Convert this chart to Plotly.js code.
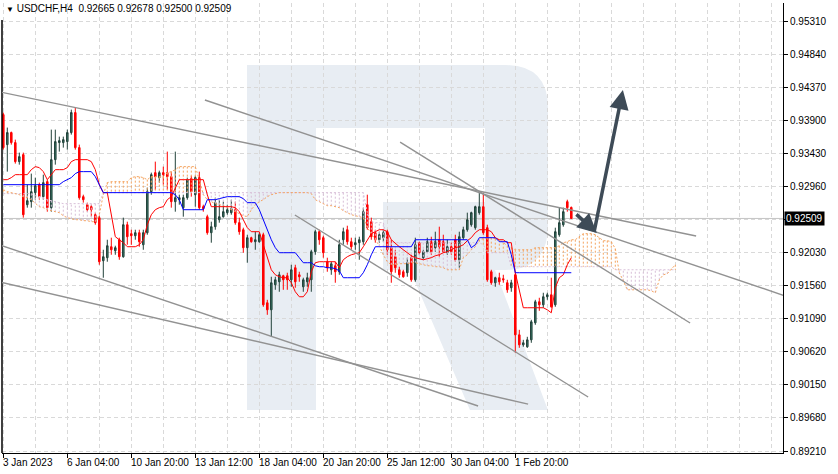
<!DOCTYPE html>
<html><head><meta charset="utf-8">
<script src="https://cdn.plot.ly/plotly-3.0.1.min.js"></script>
<style>html,body{margin:0;padding:0;background:#fff;}#chart{width:838px;height:474px;}</style>
</head><body><div id="chart"></div>
<script>
// ---- data (USDCHF H4) ----
const symbolTitle = 'USDCHF,H4';
const labelIdx = [0,16,32,48,64,80,96,112,128];
const labelText = ['3 Jan 2023','6 Jan 04:00','10 Jan 20:00','13 Jan 12:00','18 Jan 04:00','20 Jan 20:00','25 Jan 12:00','30 Jan 04:00','1 Feb 20:00'];
const priceTicks = [0.8921,0.8968,0.9015,0.9062,0.9109,0.9156,0.9203,0.92495,0.9296,0.9343,0.9390,0.9437,0.9484,0.9531];
const priceTickText = ['0.89210','0.89680','0.90150','0.90620','0.91090','0.91560','0.92030','','0.92960','0.93430','0.93900','0.94370','0.94840','0.95310'];

const openP = [.93982,.93556,.93727,.93585,.93315,.93414,.92704,.92747,.92875,.92988,
.92818,.93031,.92662,.93343,.93585,.93585,.93599,.93727,.94011,.93514,
.92818,.92704,.92676,.92562,.92520,.91909,.91952,.92108,.92051,.92207,
.91966,.92420,.92293,.92264,.92307,.92136,.92307,.92889,.93159,.93088,
.93159,.93159,.93102,.92747,.92775,.92662,.92804,.93074,.92846,.93088,
.92676,.92534,.92307,.92392,.92491,.92534,.92591,.92591,.92633,.92449,
.92349,.92094,.92236,.92179,.92179,.92278,.91313,.91213,.91568,.91611,
.91696,.91696,.91639,.91810,.91710,.91540,.91611,.91639,.92037,.92321,
.92236,.91895,.91781,.91838,.91753,.92207,.92349,.92179,.92136,.92165,
.92179,.92704,.92463,.92307,.92207,.92236,.92321,.92094,.91966,.91781,
.91753,.91739,.91952,.91639,.92165,.91952,.92037,.92179,.92094,.92207,
.92179,.92023,.92108,.92207,.91923,.92236,.92349,.92420,.92378,.92591,
.92676,.92378,.91753,.91597,.91668,.91654,.91597,.91526,.91710,.90858,
.90716,.90688,.90787,.91029,.91327,.91284,.91398,.91426,.91284,.92278,
.92420,.92747,.92665];
const highP = [.94011,.93798,.93741,.93627,.93443,.93443,.92988,.93145,.93088,.93017,
.93130,.93059,.93769,.93769,.93670,.93670,.93769,.94053,.94082,.93556,
.92846,.92733,.92704,.92591,.92548,.92065,.92207,.92236,.92122,.92236,
.92520,.92463,.92349,.92349,.92349,.92349,.92946,.93159,.93315,.93187,
.93244,.93457,.93173,.93457,.92846,.92846,.93088,.93116,.93116,.93173,
.92704,.92562,.92463,.92804,.92775,.92747,.92704,.92775,.92747,.92520,
.92378,.92278,.92250,.92321,.92307,.92307,.91355,.91682,.91682,.91753,
.91710,.91739,.91852,.91852,.91753,.91668,.91739,.92065,.92349,.92349,
.92264,.91952,.91895,.91895,.92207,.92378,.92406,.92236,.92236,.92250,
.92662,.92846,.92520,.92349,.92321,.92349,.92349,.92207,.92065,.91824,
.91781,.91952,.91994,.92236,.92179,.92065,.92236,.92250,.92321,.92392,
.92278,.92207,.92165,.92278,.92321,.92392,.92591,.92605,.92690,.92875,
.92875,.92420,.91781,.91682,.91739,.91710,.91639,.91639,.91753,.90929,
.90787,.90830,.91071,.91355,.91384,.91455,.91455,.91668,.92378,.92662,
.92662,.92775,.92678];
const lowP = [.93485,.93173,.93556,.93287,.93272,.92520,.92662,.92662,.92775,.92775,
.92775,.92605,.92605,.93272,.93457,.93514,.93485,.93698,.93485,.92775,
.92733,.92605,.92534,.92420,.91852,.91668,.91895,.91994,.91994,.91923,
.91952,.92136,.92136,.92207,.92108,.92065,.92278,.92846,.92917,.93017,
.92988,.92917,.92662,.92605,.92704,.92534,.92775,.92818,.92676,.92633,
.92605,.92278,.92165,.92349,.92449,.92520,.92562,.92562,.92420,.92278,
.92023,.91881,.92165,.92065,.92165,.91256,.91142,.90830,.91497,.91469,
.91497,.91497,.91540,.91526,.91611,.91469,.91540,.91469,.91994,.92136,
.91952,.91753,.91710,.91597,.91710,.92136,.92136,.92065,.92065,.91923,
.92136,.92349,.92207,.92165,.92165,.92179,.91994,.91597,.91739,.91668,
.91668,.91682,.91611,.91611,.91994,.91923,.92023,.91994,.92037,.91966,
.92023,.91994,.91994,.91895,.91810,.92207,.92321,.92392,.92349,.92562,
.92278,.91611,.91568,.91540,.91568,.91597,.91455,.91469,.90603,.90674,
.90688,.90674,.90745,.91000,.91199,.91242,.91355,.91242,.91256,.92250,
.92392,.92605,.92500];
const closeP = [.93514,.93727,.93585,.93315,.93386,.92562,.92761,.92889,.92974,.92818,
.93017,.92662,.93343,.93599,.93613,.93627,.93727,.94011,.93514,.92804,
.92775,.92633,.92633,.92449,.91895,.91966,.92122,.92065,.92094,.91966,
.92420,.92250,.92264,.92307,.92179,.92307,.92889,.93130,.93102,.93159,
.93130,.93102,.92747,.92804,.92804,.92804,.93059,.92889,.93088,.92662,
.92648,.92307,.92392,.92733,.92534,.92605,.92633,.92648,.92449,.92321,
.92094,.92236,.92179,.92207,.92278,.91284,.91213,.91597,.91639,.91710,
.91639,.91639,.91781,.91611,.91682,.91639,.91668,.92037,.92321,.92207,
.92023,.91810,.91866,.91753,.92136,.92321,.92179,.92108,.92165,.92207,
.92605,.92378,.92250,.92207,.92278,.92307,.92065,.91753,.91810,.91710,
.91682,.91881,.91639,.92136,.92023,.92037,.92179,.92037,.92179,.92108,
.92037,.92108,.92037,.91923,.92250,.92349,.92491,.92591,.92676,.92676,
.92307,.91639,.91597,.91668,.91611,.91639,.91497,.91597,.90858,.90716,
.90745,.90787,.91043,.91327,.91284,.91398,.91426,.91256,.92321,.92449,
.92605,.92662,.92509];

// Ichimoku lines
const tenkan = [.93059,.93059,.93088,.93130,.93130,.93130,.93130,.93201,.93244,.93230,
.93173,.93059,.93130,.93201,.93201,.93201,.93230,.93315,.93343,.93343,
.93343,.93343,.93315,.93201,.92988,.92875,.92875,.92562,.92250,.92207,
.92165,.92108,.92108,.92108,.92136,.92207,.92420,.92562,.92633,.92662,
.92676,.92775,.92818,.92946,.93059,.93059,.93059,.93059,.93059,.93059,
.93059,.92846,.92676,.92676,.92676,.92676,.92676,.92676,.92662,.92605,
.92491,.92378,.92321,.92321,.92321,.92136,.91966,.91781,.91710,.91682,
.91668,.91668,.91597,.91469,.91398,.91398,.91469,.91753,.91881,.91895,
.91895,.91895,.91895,.91895,.91810,.91923,.91966,.91994,.92009,.92023,
.92108,.92207,.92293,.92321,.92349,.92349,.92321,.92207,.92151,.92108,
.92065,.92023,.91980,.91952,.91938,.91923,.91938,.91952,.91980,.91994,
.92023,.92037,.92065,.92094,.92108,.92136,.92193,.92236,.92307,.92349,
.92349,.92349,.92321,.92236,.92207,.92207,.92165,.92165,.91739,.91497,
.91242,.91242,.91242,.91242,.91242,.91242,.91213,.91171,.91526,.91668,
.91710,.91852,.91952];
const kijun = [.92988,.92988,.92988,.92988,.92988,.92988,.92988,.92988,.92988,.92988,
.92988,.92988,.92988,.92988,.92988,.93031,.93059,.93088,.93145,.93173,
.93173,.93173,.93173,.93102,.92988,.92875,.92875,.92875,.92875,.92875,
.92875,.92875,.92875,.92875,.92875,.92875,.92875,.92875,.92875,.92875,
.92875,.92875,.92875,.92846,.92775,.92633,.92633,.92633,.92633,.92633,
.92633,.92775,.92775,.92775,.92790,.92804,.92818,.92818,.92818,.92818,
.92790,.92733,.92733,.92733,.92633,.92491,.92349,.92207,.92094,.92023,
.92023,.92023,.92023,.92023,.91952,.91881,.91881,.91881,.91838,.91824,
.91824,.91810,.91810,.91796,.91767,.91668,.91668,.91668,.91668,.91668,
.91739,.91852,.91994,.92108,.92108,.92108,.92108,.92108,.92108,.92108,
.92108,.92108,.92108,.92207,.92207,.92207,.92207,.92207,.92207,.92207,
.92207,.92207,.92207,.92207,.92207,.92207,.92207,.92094,.92136,.92236,
.92236,.92236,.92236,.92236,.92179,.92179,.92179,.91994,.91739,.91739,
.91739,.91739,.91739,.91739,.91739,.91739,.91739,.91739,.91739,.91739,
.91739,.91739,.91739];
const spanA = [.92917,.92889,.92875,.92861,.92846,.92818,.92804,.92775,.92719,.92676,
.92662,.92633,.92619,.92605,.92591,.92548,.92520,.92506,.92491,.92491,
.92477,.92477,.92463,.92463,.92562,.92846,.93017,.93031,.93031,.93031,
.93031,.93031,.93088,.93102,.93102,.93088,.93059,.93102,.93102,.93102,
.93102,.93159,.93173,.93201,.93244,.93244,.93244,.93244,.93244,.93059,
.92846,.92775,.92747,.92719,.92704,.92690,.92662,.92633,.92605,.92577,
.92548,.92534,.92633,.92704,.92747,.92775,.92818,.92846,.92861,.92875,
.92875,.92875,.92875,.92875,.92875,.92875,.92875,.92861,.92775,.92747,
.92719,.92690,.92690,.92676,.92662,.92619,.92591,.92562,.92548,.92534,
.92520,.92378,.92293,.92207,.92122,.91994,.91895,.91852,.91852,.91867,
.91867,.91867,.91881,.91881,.91867,.91852,.91838,.91838,.91824,.91824,
.91810,.91781,.91781,.91781,.91781,.91952,.91994,.92065,.92108,.92207,
.92222,.92236,.92236,.92222,.92207,.92165,.92122,.92094,.92065,.92065,
.92065,.92065,.92065,.92094,.92094,.92094,.92094,.92094,.92094,.92122,
.92165,.92179,.92207,.92207,.92250,.92293,.92293,.92293,.92278,.92236,
.92193,.92193,.92179,.92080,.91739,.91625,.91497,.91497,.91497,.91497,
.91497,.91497,.91483,.91455,.91639,.91710,.91725,.91796,.91852];
const spanB = [.92861,.92861,.92861,.92861,.92861,.92861,.92861,.92861,.92832,.92818,
.92804,.92775,.92761,.92747,.92733,.92719,.92719,.92719,.92719,.92719,
.92719,.92719,.92719,.92719,.92719,.92875,.92875,.92875,.92875,.92875,
.92875,.92875,.92875,.92875,.92875,.92875,.92875,.92875,.92875,.92875,
.92875,.92875,.92875,.92875,.92875,.92875,.92875,.92875,.92875,.92875,
.92875,.92875,.92875,.92875,.92875,.92875,.92875,.92875,.92875,.92875,
.92875,.92875,.92875,.92875,.92875,.92875,.92875,.92875,.92875,.92875,
.92875,.92875,.92875,.92875,.92875,.92875,.92875,.92875,.92875,.92875,
.92875,.92875,.92875,.92875,.92875,.92875,.92875,.92875,.92875,.92875,
.92875,.92591,.92463,.92449,.92449,.92449,.92193,.92165,.92165,.92165,
.92165,.92165,.92165,.92165,.92165,.92165,.92165,.92165,.92165,.92165,
.92165,.92165,.92165,.92165,.92165,.92165,.92165,.92165,.92165,.92165,
.92136,.92023,.92023,.92023,.92023,.92023,.92023,.91824,.91824,.91824,
.91824,.91824,.91824,.91824,.91824,.91824,.91824,.91824,.91824,.91824,
.91824,.91824,.91824,.91824,.91824,.91824,.91824,.91824,.91824,.91824,
.91824,.91824,.91824,.91781,.91781,.91781,.91781,.91781,.91781,.91781,
.91781,.91781,.91781,.91781,.91781,.91781,.91781,.91781,.91781];

// drawn analysis objects: [bar0, price0, bar1, price1]
const trendLines = [
  [-0.825, 0.94303, 173.2, 0.92260],
  [50.4, 0.94189, 203.7, 0.91253],
  [99.2, 0.93593, 171.7, 0.91026],
  [72.9, 0.92558, 146.2, 0.89976],
  [-0.825, 0.92132, 118.7, 0.89848],
  [-0.825, 0.91607, 131.2, 0.89875]
];
const arrows = [
  [142.9, 0.92586, 148.4, 0.92303],
  [147.7, 0.92317, 154.9, 0.94331]
];

// ---- build ----
const n = openP.length;
const bars = openP.map((_, i) => i);
const cloudX = spanA.map((_, i) => i);

const hatchO = {x: [], y: []}, hatchT = {x: [], y: []};
for (let i = 0; i < spanA.length; i++) {
  const h = spanA[i] >= spanB[i] ? hatchO : hatchT;
  h.x.push(i, i, null); h.y.push(spanA[i], spanB[i], null);
}

const traces = [
  {type:'scatter', mode:'lines', x:hatchT.x, y:hatchT.y, line:{color:'#d8bfd8', width:1, dash:'2px,2px'}, connectgaps:false, hoverinfo:'skip'},
  {type:'scatter', mode:'lines', x:hatchO.x, y:hatchO.y, line:{color:'#f4a460', width:1, dash:'2px,2px'}, connectgaps:false, hoverinfo:'skip'},
  {type:'scatter', mode:'lines', x:cloudX, y:spanB, line:{color:'#d8bfd8', width:1, dash:'2px,2px'}, hoverinfo:'skip'},
  {type:'scatter', mode:'lines', x:cloudX, y:spanA, line:{color:'#f4a460', width:1, dash:'2px,2px'}, hoverinfo:'skip'},
  {type:'candlestick', x:bars, open:openP, high:highP, low:lowP, close:closeP,
   increasing:{line:{color:'#22423a', width:1}, fillcolor:'#3a7866'},
   decreasing:{line:{color:'#ff0000', width:1}, fillcolor:'#ff0000'},
   whiskerwidth:0, hoverinfo:'skip'},
  {type:'scatter', mode:'lines', x:bars, y:tenkan, line:{color:'#ff0000', width:1}, hoverinfo:'skip'},
  {type:'scatter', mode:'lines', x:bars, y:kijun, line:{color:'#0000ff', width:1}, hoverinfo:'skip'}
];

// watermark helper (pixel -> paper)
const PX = x => ((x - 2) / 781).toFixed(4);
const PY = y => ((453 - y) / 450).toFixed(4);
const P = (x, y) => PX(x) + ',' + PY(y);
const rPath = 'M' + P(247,410) + ' L' + P(247,65) + ' L' + P(505,65) + ' Q' + P(548,65) + ' ' + P(548,108) +
  ' L' + P(548,225) + ' Q' + P(548,270) + ' ' + P(505,270) + ' L' + P(495,270) + ' L' + P(548,410) +
  ' L' + P(470,410) + ' L' + P(410,270) + ' L' + P(383,270) + ' L' + P(383,202) + ' L' + P(485,202) +
  ' L' + P(485,128) + ' L' + P(316,128) + ' L' + P(316,410) + ' Z';

const last = closeP[n - 1];
const shapes = [
  {type:'path', xref:'paper', yref:'paper', path:rPath, fillcolor:'#e8edf3', line:{width:0}, layer:'below'},
  {type:'line', xref:'paper', yref:'y', x0:0, x1:1, y0:last, y1:last, line:{color:'#c4c4c4', width:1}, layer:'below'},
  {type:'line', xref:'paper', yref:'paper', x0:0, x1:0, y0:0, y1:0.962, line:{color:'#000', width:1.5}}
];
trendLines.forEach(t => shapes.push({type:'line', xref:'x', yref:'y', x0:t[0], y0:t[1], x1:t[2], y1:t[3], line:{color:'#929292', width:1.4}}));

const annotations = [];
labelIdx.forEach((ix, k) => annotations.push({x:ix, xref:'x', y:0, yref:'paper', yanchor:'top', xanchor:'left', xshift:-2, yshift:-2,
  text:labelText[k], showarrow:false, font:{family:'Liberation Sans', size:10, color:'#000'}}));
annotations.push({x:0, xref:'paper', y:1, yref:'paper', xanchor:'left', yanchor:'top', xshift:2, yshift:2, showarrow:false,
  text:'<span style="font-size:8px">▼</span> ' + symbolTitle + '  ' + [openP[n-1], highP[n-1], lowP[n-1], closeP[n-1]].map(v => v.toFixed(5)).join(' '),
  font:{family:'Liberation Sans', size:10, color:'#000'}});
annotations.push({x:1, xref:'paper', y:last, yref:'y', xanchor:'left', yanchor:'middle', xshift:1, showarrow:false,
  text:last.toFixed(5), bgcolor:'#000', borderpad:1, font:{family:'Liberation Sans', size:10, color:'#fff'}});
arrows.forEach(a => annotations.push({x:a[2], y:a[3], xref:'x', yref:'y', ax:a[0], ay:a[1], axref:'x', ayref:'y', text:'',
  showarrow:true, arrowhead:2, arrowsize:1.1, arrowwidth:3.5, arrowcolor:'#3e4b57', standoff:0, startstandoff:0}));

const grid = {gridcolor:'#d9d9d9', griddash:'4px,3px'};
const layout = {
  width:838, height:474, margin:{l:2, r:55, t:3, b:21, pad:0},
  paper_bgcolor:'#fff', plot_bgcolor:'#fff', showlegend:false, boxgap:0.45,
  font:{family:'Liberation Sans', size:10, color:'#000'},
  xaxis:{range:[-0.325, 194.925], tickmode:'array', tickvals:labelIdx, showticklabels:false, ticks:'outside', ticklen:4,
    tickcolor:'#000', showline:true, linecolor:'#000', linewidth:1, zeroline:false, showgrid:true, ...grid,
    minor:{tickmode:'linear', tick0:0, dtick:8, showgrid:true, ticks:'', ...grid}, rangeslider:{visible:false}, fixedrange:true},
  yaxis:{range:[0.891816, 0.955654], side:'right', tickmode:'array', tickvals:priceTicks, ticktext:priceTickText,
    ticks:'outside', ticklen:4, tickcolor:'#000', showline:true, linecolor:'#000', linewidth:1, zeroline:false,
    showgrid:true, ...grid, tickfont:{family:'Liberation Sans', size:10, color:'#000'}, fixedrange:true},
  shapes:shapes, annotations:annotations, hovermode:false
};
Plotly.newPlot('chart', traces, layout, {staticPlot:true, displayModeBar:false});
</script></body></html>
